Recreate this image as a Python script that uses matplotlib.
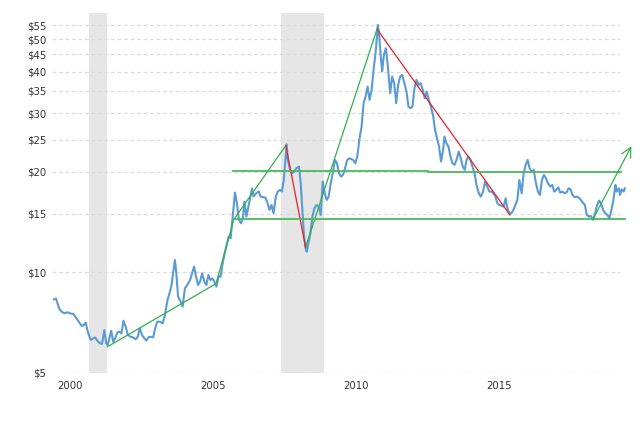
import matplotlib
matplotlib.use("Agg")
import matplotlib.pyplot as plt
from matplotlib.ticker import FixedLocator, FixedFormatter, NullLocator

# ---------------- data ----------------
years = [1999.43, 1999.50, 1999.61, 1999.69, 1999.80, 1999.90, 2000.00, 2000.11, 2000.19, 2000.30,
         2000.40, 2000.47, 2000.54, 2000.61, 2000.71, 2000.80, 2000.87, 2000.94, 2001.04, 2001.11,
         2001.19, 2001.26, 2001.31, 2001.43, 2001.50, 2001.57, 2001.64, 2001.71, 2001.79, 2001.86,
         2001.94, 2002.01, 2002.11, 2002.19, 2002.29, 2002.36, 2002.43, 2002.51, 2002.59, 2002.66,
         2002.73, 2002.80, 2002.90, 2002.97, 2003.04, 2003.14, 2003.23, 2003.30, 2003.40, 2003.47,
         2003.54, 2003.61, 2003.66, 2003.71, 2003.77, 2003.86, 2003.93, 2004.01, 2004.09, 2004.19,
         2004.26, 2004.33, 2004.40, 2004.47, 2004.54, 2004.61, 2004.69, 2004.76, 2004.83, 2004.90,
         2004.97, 2005.04, 2005.11, 2005.19, 2005.26, 2005.33, 2005.40, 2005.47, 2005.54, 2005.61,
         2005.69, 2005.76, 2005.83, 2005.90, 2005.97, 2006.04, 2006.09, 2006.16, 2006.23, 2006.30,
         2006.36, 2006.41, 2006.50, 2006.59, 2006.66, 2006.76, 2006.83, 2006.90, 2006.97, 2007.04,
         2007.11, 2007.19, 2007.26, 2007.33, 2007.40, 2007.47, 2007.57, 2007.61, 2007.69, 2007.76,
         2007.83, 2007.91, 2008.00, 2008.06, 2008.11, 2008.17, 2008.23, 2008.27, 2008.33, 2008.40,
         2008.47, 2008.54, 2008.61, 2008.69, 2008.76, 2008.83, 2008.90, 2008.97, 2009.04, 2009.11,
         2009.19, 2009.26, 2009.33, 2009.40, 2009.47, 2009.54, 2009.61, 2009.69, 2009.76, 2009.83,
         2009.90, 2009.97, 2010.04, 2010.11, 2010.19, 2010.26, 2010.33, 2010.40, 2010.47, 2010.54,
         2010.61, 2010.69, 2010.76, 2010.80, 2010.86, 2010.91, 2010.97, 2011.04, 2011.11, 2011.19,
         2011.26, 2011.33, 2011.40, 2011.47, 2011.54, 2011.61, 2011.69, 2011.76, 2011.83, 2011.90,
         2011.97, 2012.04, 2012.11, 2012.19, 2012.26, 2012.33, 2012.40, 2012.47, 2012.54, 2012.61,
         2012.69, 2012.76, 2012.83, 2012.90, 2012.97, 2013.04, 2013.09, 2013.16, 2013.23, 2013.30,
         2013.37, 2013.44, 2013.51, 2013.59, 2013.66, 2013.73, 2013.80, 2013.86, 2013.93, 2014.00,
         2014.07, 2014.14, 2014.21, 2014.29, 2014.36, 2014.44, 2014.51, 2014.59, 2014.66, 2014.73,
         2014.80, 2014.87, 2014.94, 2015.01, 2015.09, 2015.16, 2015.23, 2015.29, 2015.36, 2015.43,
         2015.50, 2015.57, 2015.64, 2015.71, 2015.79, 2015.86, 2015.93, 2016.00, 2016.07, 2016.14,
         2016.21, 2016.29, 2016.36, 2016.43, 2016.50, 2016.57, 2016.64, 2016.71, 2016.79, 2016.86,
         2016.93, 2017.00, 2017.07, 2017.14, 2017.21, 2017.29, 2017.36, 2017.43, 2017.50, 2017.57,
         2017.64, 2017.71, 2017.79, 2017.86, 2017.93, 2018.00, 2018.07, 2018.14, 2018.21, 2018.29,
         2018.36, 2018.43, 2018.50, 2018.57, 2018.64, 2018.71, 2018.79, 2018.86, 2018.93, 2019.00,
         2019.07, 2019.11, 2019.19, 2019.23, 2019.29, 2019.36, 2019.40]

prices = [8.30, 8.34, 7.80, 7.62, 7.53, 7.59, 7.53, 7.50, 7.33, 7.11,
          6.90, 6.95, 7.06, 6.64, 6.27, 6.34, 6.38, 6.24, 6.12, 6.10,
          6.71, 6.12, 6.05, 6.68, 6.19, 6.34, 6.59, 6.64, 6.56, 7.16,
          6.87, 6.49, 6.41, 6.38, 6.30, 6.41, 6.79, 6.49, 6.34, 6.24,
          6.38, 6.41, 6.38, 6.79, 7.11, 7.11, 7.03, 7.36, 8.26, 8.65,
          9.16, 10.16, 10.89, 9.93, 8.45, 8.17, 7.89, 8.95, 9.16, 9.48,
          9.93, 10.40, 9.70, 9.16, 9.38, 9.93, 9.38, 9.16, 9.82, 9.48,
          9.59, 9.38, 9.06, 9.75, 9.70, 10.64, 11.40, 12.08, 12.79, 12.65,
          15.03, 17.34, 16.11, 14.36, 14.03, 14.52, 16.29, 14.69, 15.74, 16.87,
          17.86, 16.87, 17.26, 17.46, 16.87, 16.79, 16.75, 16.11, 15.38, 15.92,
          15.03, 16.87, 17.46, 17.66, 17.46, 18.92, 24.21, 21.73, 20.28, 19.82,
          20.04, 20.51, 20.75, 18.49, 15.74, 13.09, 11.80, 11.53, 12.22, 13.09,
          14.69, 15.56, 15.92, 15.74, 14.86, 18.71, 17.26, 16.48, 16.87, 18.49,
          20.04, 21.73, 21.23, 19.82, 19.36, 19.59, 20.51, 21.73, 21.98, 21.83,
          21.73, 21.23, 22.23, 24.95, 27.35, 32.14, 33.65, 36.06, 32.89, 35.24,
          40.46, 46.45, 55.21, 52.12, 44.36, 40.00, 44.87, 46.99, 41.40, 34.43,
          38.64, 36.90, 32.14, 36.48, 38.64, 39.08, 36.90, 34.83, 31.41, 31.05,
          31.41, 35.65, 37.76, 36.48, 36.90, 35.24, 33.27, 34.83, 32.89, 31.41,
          29.65, 26.73, 25.23, 23.82, 21.48, 23.28, 25.53, 24.38, 23.82, 22.23,
          21.23, 20.99, 21.73, 23.01, 21.98, 20.75, 20.28, 21.73, 22.23, 21.73,
          20.75, 19.82, 18.28, 17.26, 16.87, 17.46, 18.71, 18.07, 17.46, 17.46,
          17.26, 16.87, 16.11, 15.92, 15.81, 15.74, 16.67, 15.56, 15.03, 15.03,
          15.38, 15.92, 16.48, 18.92, 17.26, 19.82, 20.99, 21.73, 20.51, 20.04,
          20.28, 18.49, 17.46, 17.06, 18.92, 19.59, 19.14, 18.49, 18.07, 18.28,
          17.46, 17.66, 17.99, 17.34, 17.46, 17.26, 17.38, 17.86, 17.74, 17.06,
          16.79, 16.87, 16.75, 16.48, 16.18, 15.92, 14.86, 14.69, 14.76, 14.36,
          15.03, 15.92, 16.41, 16.03, 15.38, 15.03, 14.86, 14.52, 15.38, 16.48,
          18.28, 17.46, 17.86, 17.06, 17.74, 17.46, 17.86]

recessions = [(2000.66, 2001.30), (2007.37, 2008.89)]

# green trend segments (year, price)
green_years = [2001.30, 2005.10, 2005.72, 2007.54]
green_prices = [5.98, 9.25, 14.4, 24.0]
green2_years = [2008.23, 2010.75]
green2_prices = [11.9, 54.3]
red_years = [2007.54, 2008.23]
red_prices = [24.0, 11.9]
red2_years = [2010.75, 2015.38]
red2_prices = [53.3, 14.86]
arrow_start = (2018.29, 14.45)
arrow_end = (2019.63, 23.9)

upper_level_a = (2005.69, 2012.51, 20.14)
upper_level_b = (2012.51, 2019.26, 19.95)
lower_level = (2005.71, 2019.40, 14.42)

ytick_vals = [5, 10, 15, 20, 25, 30, 35, 40, 45, 50, 55]
ytick_labels = ["$5", "$10", "$15", "$20", "$25", "$30", "$35", "$40", "$45", "$50", "$55"]
xtick_vals = [2000, 2005, 2010, 2015]
xtick_labels = ["2000", "2005", "2010", "2015"]

# ---------------- figure ----------------
fig = plt.figure(figsize=(6.4, 4.34), dpi=100)
ax = fig.add_axes([52 / 640, (434 - 372.7) / 434, (636 - 52) / 640, (372.7 - 13.3) / 434])
ax.set_yscale("log")
ax.set_xlim(1999.36, 2019.79)
ax.set_ylim(5, 59.8)

for s, e in recessions:
    ax.axvspan(s, e, color="#e6e6e6", lw=0, zorder=0)

grid_end = 2019.23
ax.hlines(ytick_vals, 1999.36, grid_end, colors="#dcdcdc", linestyles=(0, (3, 2.2)), lw=0.9, zorder=1)

ax.plot(years, prices, color="#5b9bd5", lw=1.5, zorder=3, solid_joinstyle="round", clip_on=False)

green = "#2eb24a"
hgreen = "#4cb85c"
red = "#e8202c"
ax.plot(green_years, green_prices, color=green, lw=0.9, zorder=4)
ax.plot(green2_years, green2_prices, color=green, lw=0.9, zorder=4)
ax.plot(red_years, red_prices, color=red, lw=0.9, zorder=4)
ax.plot(red2_years, red2_prices, color=red, lw=0.9, zorder=4)
ax.plot(upper_level_a[:2], [upper_level_a[2]] * 2, color=hgreen, lw=1.3, zorder=4)
ax.plot(upper_level_b[:2], [upper_level_b[2]] * 2, color=hgreen, lw=1.3, zorder=4)
ax.plot(lower_level[:2], [lower_level[2]] * 2, color=hgreen, lw=1.3, zorder=4, clip_on=False)
ax.annotate("", xy=arrow_end, xytext=arrow_start,
            arrowprops=dict(arrowstyle="->,head_length=0.7,head_width=0.35",
                            color=green, lw=0.9, shrinkA=0, shrinkB=0),
            zorder=5, annotation_clip=False)

ax.yaxis.set_major_locator(FixedLocator(ytick_vals))
ax.yaxis.set_major_formatter(FixedFormatter(ytick_labels))
ax.yaxis.set_minor_locator(NullLocator())
ax.xaxis.set_major_locator(FixedLocator(xtick_vals))
ax.xaxis.set_major_formatter(FixedFormatter(xtick_labels))
ax.tick_params(axis="both", length=0, labelsize=7.3, labelcolor="#333333")
ax.tick_params(axis="y", pad=4)
ax.tick_params(axis="x", pad=6.3)
for sp in ax.spines.values():
    sp.set_visible(False)
ax.patch.set_alpha(0)

fig.savefig("out.png", dpi=100)
